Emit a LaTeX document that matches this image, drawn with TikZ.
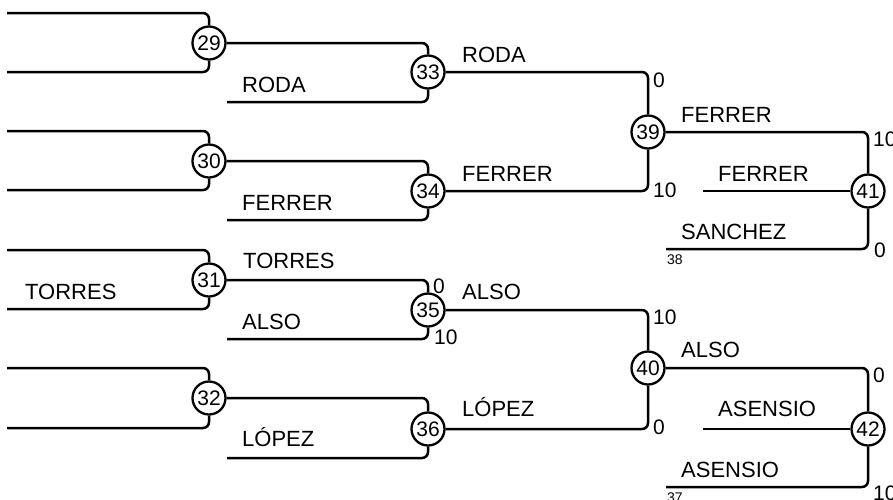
\documentclass[tikz,border=0pt]{standalone}
\usepackage{fontspec}
\setmainfont{Liberation Sans}
\begin{document}
\begin{tikzpicture}[x=1pt,y=-1pt,
  ln/.style={line width=2.5pt,rounded corners=6pt},
  mt/.style={circle,draw,line width=2.3pt,fill=white,minimum size=33pt,inner sep=0pt,font=\fontsize{21}{21}\selectfont},
  nm/.style={anchor=base west,inner sep=0pt,font=\fontsize{22}{22}\selectfont},
  sc/.style={anchor=base west,inner sep=0pt,font=\fontsize{21}{21}\selectfont},
  sm/.style={anchor=base west,inner sep=0pt,font=\fontsize{14}{14}\selectfont}]
\useasboundingbox (0,0) rectangle (893,499);
% match nodes
\node[mt] (c29) at (209,43) {29};
\node[mt] (c30) at (209,161) {30};
\node[mt] (c31) at (209,280) {31};
\node[mt] (c32) at (209,398) {32};
\node[mt] (c33) at (428,72) {33};
\node[mt] (c34) at (428,191) {34};
\node[mt] (c35) at (428,310) {35};
\node[mt] (c36) at (428,429) {36};
\node[mt] (c39) at (648,132) {39};
\node[mt] (c40) at (648,368) {40};
\node[mt] (c41) at (868,191) {41};
\node[mt] (c42) at (868,429) {42};
% free line ends
\coordinate (a1) at (7,13);
\coordinate (a2) at (7,72);
\coordinate (a3) at (7,131);
\coordinate (a4) at (7,190);
\coordinate (a5) at (7,250);
\coordinate (a6) at (7,309);
\coordinate (a7) at (7,368);
\coordinate (a8) at (7,428);
\coordinate (b1) at (227,102);
\coordinate (b2) at (227,220);
\coordinate (b3) at (227,339);
\coordinate (b4) at (227,458);
\coordinate (d1) at (703,191);
\coordinate (d2) at (666,249);
\coordinate (d3) at (703,429);
\coordinate (d4) at (666,487);
% connectors
\draw[ln] (a1) -| (c29);
\draw[ln] (a2) -| (c29);
\draw[ln] (a3) -| (c30);
\draw[ln] (a4) -| (c30);
\draw[ln] (a5) -| (c31);
\draw[ln] (a6) -| (c31);
\draw[ln] (a7) -| (c32);
\draw[ln] (a8) -| (c32);
\draw[ln] (c29) -| (c33);
\draw[ln] (b1) -| (c33);
\draw[ln] (c30) -| (c34);
\draw[ln] (b2) -| (c34);
\draw[ln] (c31) -| (c35);
\draw[ln] (b3) -| (c35);
\draw[ln] (c32) -| (c36);
\draw[ln] (b4) -| (c36);
\draw[ln] (c33) -| (c39);
\draw[ln] (c34) -| (c39);
\draw[ln] (c35) -| (c40);
\draw[ln] (c36) -| (c40);
\draw[ln] (c39) -| (c41);
\draw[ln] (d1) -- (c41);
\draw[ln] (d2) -| (c41);
\draw[ln] (c40) -| (c42);
\draw[ln] (d3) -- (c42);
\draw[ln] (d4) -| (c42);
% names
\node[nm] (n1) at (242,92) {RODA};
\node[nm] (n2) at (242,210) {FERRER};
\node[nm] (n3) at (25,299) {TORRES};
\node[nm] (n4) at (243,268) {TORRES};
\node[nm] (n5) at (242,329) {ALSO};
\node[nm] (n6) at (242,446) {LÓPEZ};
\node[nm] (n7) at (462,62) {RODA};
\node[nm] (n8) at (462,181) {FERRER};
\node[nm] (n9) at (462,299) {ALSO};
\node[nm] (n10) at (462,416) {LÓPEZ};
\node[nm] (n11) at (681,122) {FERRER};
\node[nm] (n12) at (718,181) {FERRER};
\node[nm] (n13) at (681,239) {SANCHEZ};
\node[nm] (n14) at (681,357) {ALSO};
\node[nm] (n15) at (718,416) {ASENSIO};
\node[nm] (n16) at (681,477) {ASENSIO};
% scores
\node[sc] (s1) at (653,87) {0};
\node[sc] (s2) at (653,197) {10};
\node[sc] (s3) at (873,146) {10};
\node[sc] (s4) at (874,257) {0};
\node[sc] (s5) at (433,293) {0};
\node[sc] (s6) at (434,344) {10};
\node[sc] (s7) at (653,324) {10};
\node[sc] (s8) at (653,434) {0};
\node[sc] (s9) at (873,382) {0};
\node[sc] (s10) at (873,500) {10};
\node[sm] (m1) at (667,264) {38};
\node[sm] (m2) at (667,502) {37};
\end{tikzpicture}
\end{document}
